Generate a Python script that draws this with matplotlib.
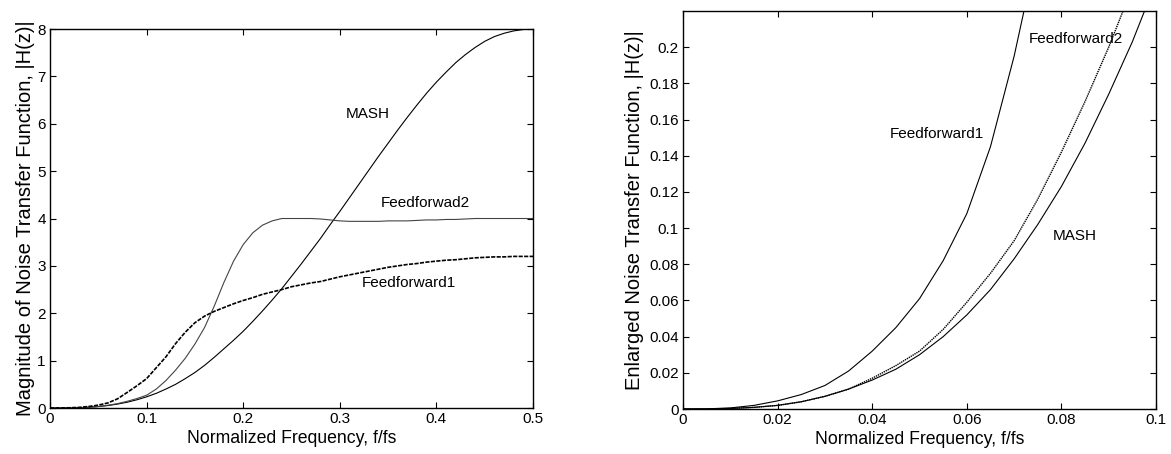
import matplotlib
matplotlib.use("Agg")
import matplotlib.pyplot as plt
from matplotlib.ticker import FuncFormatter

plt.rcParams['font.family'] = ['Liberation Sans', 'DejaVu Sans']

# full band, 0 .. fs/2
f_full = [0.00, 0.01, 0.02, 0.03, 0.04, 0.05, 0.06, 0.07, 0.08, 0.09,
          0.10, 0.11, 0.12, 0.13, 0.14, 0.15, 0.16, 0.17, 0.18, 0.19,
          0.20, 0.21, 0.22, 0.23, 0.24, 0.25, 0.26, 0.27, 0.28, 0.29,
          0.30, 0.31, 0.32, 0.33, 0.34, 0.35, 0.36, 0.37, 0.38, 0.39,
          0.40, 0.41, 0.42, 0.43, 0.44, 0.45, 0.46, 0.47, 0.48, 0.49, 0.50]
mash_full = [0.00, 0.00, 0.002, 0.007, 0.016, 0.03, 0.052, 0.083, 0.123, 0.174,
             0.236, 0.31, 0.40, 0.50, 0.62, 0.75, 0.90, 1.07, 1.25, 1.43,
             1.62, 1.83, 2.05, 2.28, 2.52, 2.78, 3.04, 3.31, 3.58, 3.87,
             4.15, 4.44, 4.73, 5.02, 5.31, 5.59, 5.87, 6.14, 6.40, 6.65,
             6.88, 7.09, 7.29, 7.46, 7.61, 7.74, 7.84, 7.91, 7.96, 7.99, 8.00]
ff1_full = [0.00, 0.001, 0.005, 0.013, 0.032, 0.061, 0.108, 0.195, 0.33, 0.47,
            0.62, 0.85, 1.08, 1.36, 1.60, 1.80, 1.94, 2.04, 2.12, 2.20,
            2.27, 2.33, 2.40, 2.45, 2.50, 2.56, 2.60, 2.64, 2.67, 2.72,
            2.77, 2.81, 2.85, 2.89, 2.93, 2.97, 3.00, 3.03, 3.05, 3.08,
            3.10, 3.12, 3.13, 3.15, 3.17, 3.18, 3.19, 3.19, 3.20, 3.20, 3.20]
ff2_full = [0.00, 0.00, 0.002, 0.007, 0.017, 0.032, 0.059, 0.093, 0.142, 0.20,
            0.27, 0.40, 0.58, 0.80, 1.05, 1.35, 1.70, 2.15, 2.65, 3.10,
            3.45, 3.70, 3.86, 3.95, 4.00, 4.00, 4.00, 4.00, 3.99, 3.97,
            3.95, 3.94, 3.94, 3.94, 3.94, 3.95, 3.95, 3.95, 3.96, 3.97,
            3.97, 3.98, 3.98, 3.99, 4.00, 4.00, 4.00, 4.00, 4.00, 4.00, 4.00]

# low band detail, 0 .. 0.1 fs
f_low = [0.000, 0.005, 0.010, 0.015, 0.020, 0.025, 0.030, 0.035, 0.040, 0.045,
         0.050, 0.055, 0.060, 0.065, 0.070, 0.075, 0.080, 0.085, 0.090, 0.095, 0.100]
mash_low = [0.0, 0.0, 0.0003, 0.0009, 0.002, 0.004, 0.007, 0.011, 0.016, 0.022,
            0.030, 0.040, 0.052, 0.066, 0.083, 0.102, 0.123, 0.147, 0.174, 0.203, 0.236]
ff1_low = [0.0, 0.0001, 0.0006, 0.002, 0.0045, 0.008, 0.013, 0.021, 0.032, 0.045,
           0.061, 0.082, 0.108, 0.145, 0.195, 0.255, 0.33, 0.40, 0.47, 0.54, 0.62]
ff2_low = [0.0, 0.0, 0.0003, 0.0009, 0.002, 0.004, 0.007, 0.011, 0.017, 0.024,
           0.032, 0.044, 0.059, 0.075, 0.093, 0.116, 0.142, 0.170, 0.200, 0.233, 0.27]

fig = plt.figure(figsize=(11.71, 4.54), dpi=100)
ax1 = fig.add_axes([0.0427, 0.1013, 0.4125, 0.8348])
ax2 = fig.add_axes([0.5833, 0.0991, 0.4039, 0.8767])

ax1.plot(f_full, mash_full, color='black', lw=0.8)
ax1.plot(f_full, ff2_full, color='#444444', lw=0.8)
ax1.plot(f_full, ff1_full, color='black', lw=1.2, ls=(0, (2.5, 0.8)))
ax1.set_xlim(0, 0.5)
ax1.set_ylim(0, 8)
ax1.set_xticks([0, 0.1, 0.2, 0.3, 0.4, 0.5])
ax1.set_yticks(range(9))
ax1.xaxis.set_major_formatter(FuncFormatter(lambda v, p: '%g' % v))
ax1.set_xlabel('Normalized Frequency, f/fs', fontsize=12.7, labelpad=3)
ax1.set_ylabel('Magnitude of Noise Transfer Function, |H(z)|', fontsize=14.5, labelpad=2)
ax1.text(0.306, 6.2, 'MASH', fontsize=11, va='center')
ax1.text(0.342, 4.32, 'Feedforwad2', fontsize=11, va='center')
ax1.text(0.3226, 2.63, 'Feedforward1', fontsize=11, va='center')

ax2.plot(f_low, ff1_low, color='black', lw=0.8)
ax2.plot(f_low, ff2_low, color='black', lw=1.0, ls=(0, (1, 0.6)))
ax2.plot(f_low, mash_low, color='black', lw=0.8)
ax2.set_xlim(0, 0.1)
ax2.set_ylim(0, 0.22)
ax2.set_xticks([0, 0.02, 0.04, 0.06, 0.08, 0.1])
ax2.set_yticks([0, 0.02, 0.04, 0.06, 0.08, 0.1, 0.12, 0.14, 0.16, 0.18, 0.2])
ax2.xaxis.set_major_formatter(FuncFormatter(lambda v, p: '%g' % v))
ax2.yaxis.set_major_formatter(FuncFormatter(lambda v, p: '%g' % v))
ax2.set_xlabel('Normalized Frequency, f/fs', fontsize=12.7, labelpad=3)
ax2.set_ylabel('Enlarged Noise Transfer Function, |H(z)|', fontsize=14.5, labelpad=4)
ax2.text(0.0437, 0.152, 'Feedforward1', fontsize=11, va='center')
ax2.text(0.073, 0.2046, 'Feedforward2', fontsize=11, va='center')
ax2.text(0.0781, 0.0955, 'MASH', fontsize=11, va='center')

for ax in (ax1, ax2):
    ax.tick_params(direction='in', length=4, width=0.8, labelsize=11,
                   top=True, right=True, pad=3)
    for s in ax.spines.values():
        s.set_linewidth(1.0)

fig.savefig('out.png', dpi=100)
